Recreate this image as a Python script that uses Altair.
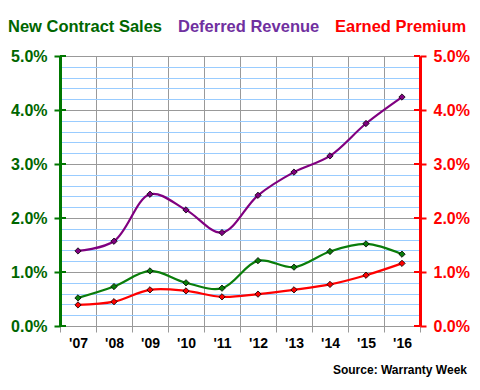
import altair as alt
import pandas as pd

years = ["'07", "'08", "'09", "'10", "'11", "'12", "'13", "'14", "'15", "'16"]
new_contract_sales = [0.52, 0.73, 1.02, 0.80, 0.70, 1.21, 1.09, 1.38, 1.52, 1.33]
deferred_revenue = [1.39, 1.57, 2.44, 2.15, 1.73, 2.42, 2.85, 3.15, 3.75, 4.24]
earned_premium = [0.39, 0.45, 0.67, 0.65, 0.54, 0.59, 0.67, 0.77, 0.94, 1.16]

series_names = ["New Contract Sales", "Deferred Revenue", "Earned Premium"]
line_colors = ["#0A7D0A", "#800080", "#FF0000"]
text_colors = ["#006600", "#7030A0", "#FF0000"]

rows = []
for name, vals in zip(series_names, [new_contract_sales, deferred_revenue, earned_premium]):
    for yr, v in zip(years, vals):
        rows.append({"year": yr, "series": name, "value": v / 100})
df = pd.DataFrame(rows)

FONT = "Liberation Sans"
W, H = 360, 270
minor_vals = [round(i * 0.002, 4) for i in range(26)]
major_vals = [round(i * 0.01, 4) for i in range(6)]
is_major = "abs(datum.value*100 - round(datum.value*100)) < 0.01"
ydom = alt.Scale(domain=[0, 0.05], nice=False, zero=True)

x_enc = alt.X("year:N", sort=years,
              scale=alt.Scale(type="band", paddingInner=0, paddingOuter=0),
              axis=alt.Axis(title=None, tickBand="extent", grid=True, gridColor="#999999",
                            gridWidth=1, domainColor="#999999", domainWidth=1,
                            tickColor="#999999", tickSize=6, labelFont=FONT,
                            labelFontSize=14, labelFontWeight="bold", labelColor="#000000",
                            labelPadding=4, labelAngle=0))
color_enc = alt.Color("series:N", scale=alt.Scale(domain=series_names, range=line_colors), legend=None)

base = alt.Chart(df)

left_lines = base.transform_filter(alt.datum.series != "Earned Premium").mark_line(
    interpolate="catmull-rom", strokeWidth=2.2).encode(
    x=x_enc,
    y=alt.Y("value:Q", scale=ydom,
            axis=alt.Axis(title=None, orient="left", values=minor_vals,
                          ticks=True, tickSize=6, tickWidth=2, tickColor="#007700",
                          tickOpacity={"condition": {"test": is_major, "value": 1}, "value": 0},
                          labelExpr=is_major + " ? format(datum.value, '.1%') : ''",
                          labelFont=FONT, labelFontSize=16, labelFontWeight="bold",
                          labelColor="#006600", labelPadding=7,
                          domainColor="#007700", domainWidth=3,
                          grid=True, gridWidth=1,
                          gridColor={"condition": {"test": is_major, "value": "#999999"},
                                     "value": "#99CCFF"})),
    color=color_enc)

right_lines = base.transform_filter(alt.datum.series == "Earned Premium").mark_line(
    interpolate="catmull-rom", strokeWidth=2.2).encode(
    x=x_enc,
    y=alt.Y("value:Q", scale=ydom,
            axis=alt.Axis(title=None, orient="right", values=major_vals,
                          ticks=True, tickSize=6, tickWidth=2, tickColor="#FF0000",
                          format=".1%", labelFont=FONT, labelFontSize=16,
                          labelFontWeight="bold", labelColor="#FF0000", labelPadding=7,
                          domainColor="#FF0000", domainWidth=3, grid=False)),
    color=color_enc)

points = base.mark_point(
    shape="diamond", filled=True, size=40, stroke="#000000", strokeWidth=0.8, opacity=1).encode(
    x=x_enc,
    y=alt.Y("value:Q", scale=ydom, axis=None),
    fill=color_enc)

ticks_df = pd.DataFrame({"v": major_vals})
left_ticks = alt.Chart(ticks_df).mark_rule(color="#007700", strokeWidth=2).encode(
    y=alt.Y("v:Q", scale=ydom, axis=None), x=alt.value(0), x2=alt.value(6))
right_ticks = alt.Chart(ticks_df).mark_rule(color="#FF0000", strokeWidth=2).encode(
    y=alt.Y("v:Q", scale=ydom, axis=None), x=alt.value(W - 6), x2=alt.value(W))

title_x = [-52, 118, 275]
title_layers = []
for name, col, tx in zip(series_names, text_colors, title_x):
    title_layers.append(
        alt.Chart(pd.DataFrame({"t": [name]})).mark_text(
            font=FONT, fontSize=16.5, fontWeight="bold", align="left", baseline="alphabetic",
            color=col).encode(text="t:N", x=alt.value(tx), y=alt.value(-24)))

source = alt.Chart(pd.DataFrame({"t": ["Source: Warranty Week"]})).mark_text(
    font=FONT, fontSize=12, fontWeight="bold", align="right", baseline="alphabetic",
    color="#000000").encode(text="t:N", x=alt.value(407), y=alt.value(318))

chart = alt.layer(left_lines, right_lines, points, left_ticks, right_ticks,
                  *title_layers, source).resolve_scale(y="independent").properties(
    width=W, height=H,
    autosize=alt.AutoSizeParams(type="none"),
    padding={"left": 52, "top": 48, "right": 52, "bottom": 52},
    background="#FFFFFF",
).configure_view(stroke=None)

chart.save("out.html", embed_options={"renderer": "svg", "actions": False})
